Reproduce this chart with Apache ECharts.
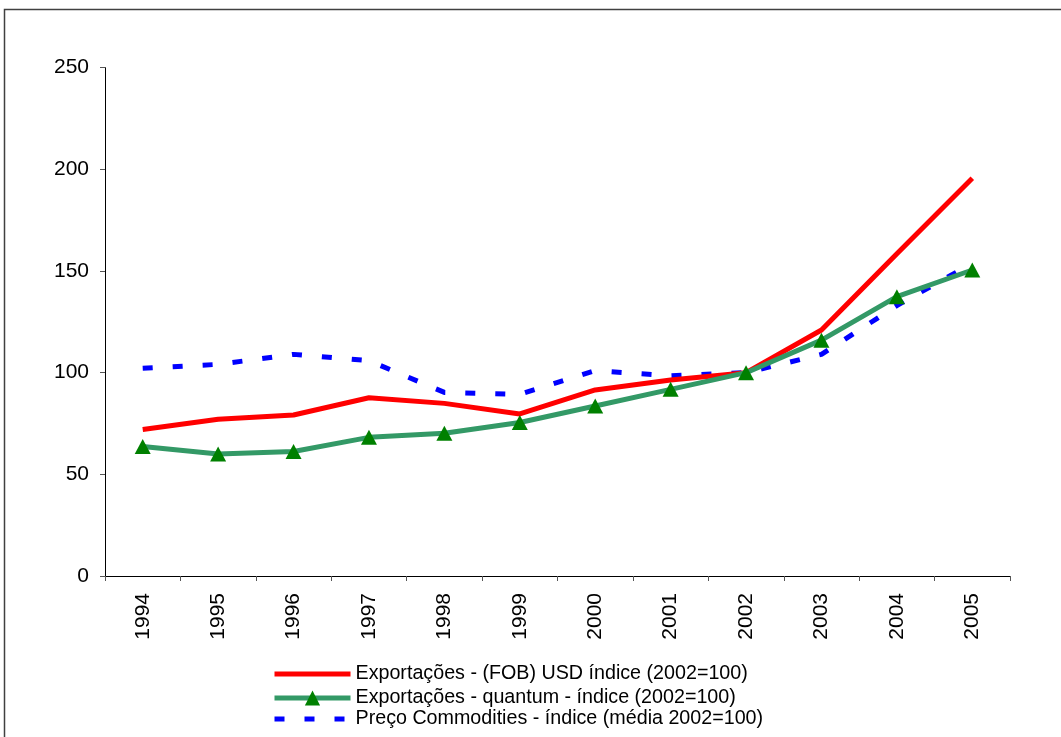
<!DOCTYPE html>
<html>
<head>
<meta charset="utf-8">
<style>
  html, body { margin: 0; padding: 0; background: #fff; }
  #chart { width: 1061px; height: 737px; }
</style>
<script src="https://cdn.jsdelivr.net/npm/echarts@6/dist/echarts.min.js"></script>
</head>
<body>
<div id="chart"></div>
<script>
const years = ['1994','1995','1996','1997','1998','1999','2000','2001','2002','2003','2004','2005'];
const exportsFOB = [72.1, 77.1, 79.2, 87.7, 84.9, 79.7, 91.5, 96.4, 100, 121.0, 158.5, 195.6];
const exportsQuantum = [63.7, 60.0, 61.2, 68.2, 70.2, 75.5, 83.6, 91.8, 100, 116.0, 137.4, 150.5];
const commodityPrice = [102.2, 104.1, 109.0, 105.9, 90.3, 89.4, 101.0, 98.5, 100, 109.0, 133.0, 153.8];
const yTicks = [0, 50, 100, 150, 200, 250];
const seriesNames = [
  'Exportações - (FOB) USD índice (2002=100)',
  'Exportações - quantum - índice (2002=100)',
  'Preço Commodities - índice (média 2002=100)'
];
const colors = ['#ff0000', '#339966', '#0000ff'];
const legendTops = [658, 682, 703];

const FONT = '"Liberation Sans", Arial, sans-serif';
const chart = echarts.init(document.getElementById('chart'), null, { renderer: 'canvas' });

function makeLegend(i, lineType, hideSymbol) {
  const item = { name: seriesNames[i] };
  if (hideSymbol) item.itemStyle = { color: 'rgba(0,0,0,0)', borderWidth: 0, opacity: 0 };
  return {
    orient: 'vertical',
    left: 267,
    top: legendTops[i],
    itemWidth: 76,
    itemHeight: 19,
    itemGap: 0,
    selectedMode: false,
    lineStyle: { width: 5, color: colors[i], type: lineType },
    textStyle: { fontFamily: FONT, fontSize: 19.7, color: '#000', lineHeight: 22 },
    data: [item]
  };
}

chart.setOption({
  animation: false,
  backgroundColor: '#ffffff',
  graphic: [{
    type: 'rect',
    shape: { x: 4.5, y: 9.5, width: 2000, height: 2000 },
    style: { fill: 'none', stroke: '#404040', lineWidth: 1.5 },
    silent: true
  }],
  grid: { left: 105, right: 51, top: 67.7, bottom: 161, containLabel: false },
  xAxis: {
    type: 'category',
    data: years,
    boundaryGap: true,
    axisLine: { show: true, lineStyle: { color: '#000', width: 1 } },
    axisTick: { show: true, length: 5, inside: false, alignWithLabel: false, lineStyle: { color: '#555' } },
    axisLabel: { rotate: 90, margin: 17, color: '#000', fontFamily: FONT, fontSize: 21, interval: 0 },
    splitLine: { show: false }
  },
  yAxis: {
    type: 'value',
    min: yTicks[0],
    max: yTicks[yTicks.length - 1],
    interval: 50,
    axisLine: { show: true, lineStyle: { color: '#000', width: 1 } },
    axisTick: { show: true, length: 5, inside: false, lineStyle: { color: '#555' } },
    axisLabel: { margin: 16, color: '#000', fontFamily: FONT, fontSize: 21 },
    splitLine: { show: false }
  },
  legend: [
    makeLegend(0, 'solid', true),
    makeLegend(1, 'solid', false),
    makeLegend(2, [10, 20], true)
  ],
  series: [
    {
      name: seriesNames[0],
      type: 'line',
      data: exportsFOB,
      symbol: 'none',
      showSymbol: false,
      z: 3,
      lineStyle: { color: colors[0], width: 5 },
      itemStyle: { color: colors[0] }
    },
    {
      name: seriesNames[1],
      type: 'line',
      data: exportsQuantum,
      symbol: 'triangle',
      symbolSize: [16, 15],
      showSymbol: true,
      z: 4,
      lineStyle: { color: colors[1], width: 5 },
      itemStyle: { color: '#008000', borderWidth: 0 }
    },
    {
      name: seriesNames[2],
      type: 'line',
      data: commodityPrice,
      symbol: 'none',
      showSymbol: false,
      z: 2,
      lineStyle: { color: colors[2], width: 5, type: [10, 20] },
      itemStyle: { color: colors[2] }
    }
  ]
});
</script>
</body>
</html>
